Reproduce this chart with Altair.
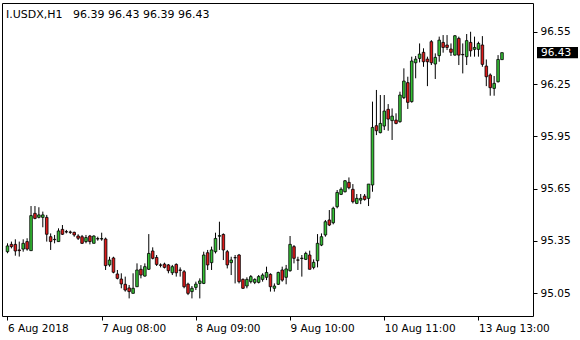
import altair as alt
import pandas as pd

opens = [95.288, 95.330, 95.330, 95.298, 95.303, 95.346, 95.294, 95.508, 95.485, 95.485,
         95.485, 95.374, 95.359, 95.346, 95.416, 95.403, 95.401, 95.399, 95.378, 95.374,
         95.346, 95.378, 95.336, 95.363, 95.361, 95.361, 95.212, 95.252, 95.160, 95.131,
         95.101, 95.080, 95.049, 95.087, 95.187, 95.148, 95.187, 95.292, 95.255, 95.212,
         95.217, 95.212, 95.167, 95.215, 95.183, 95.173, 95.102, 95.059, 95.083, 95.106,
         95.106, 95.282, 95.225, 95.288, 95.377, 95.387, 95.288, 95.225, 95.254, 95.269,
         95.129, 95.091, 95.116, 95.112, 95.112, 95.129, 95.141, 95.158, 95.078, 95.101,
         95.183, 95.141, 95.179, 95.317, 95.241, 95.249, 95.244, 95.269, 95.198, 95.236,
         95.326, 95.384, 95.470, 95.454, 95.546, 95.617, 95.632, 95.686, 95.646, 95.565,
         95.584, 95.607, 95.594, 95.671, 96.011, 95.971, 96.009, 96.105, 96.040, 96.043,
         96.034, 96.172, 96.258, 96.149, 96.372, 96.397, 96.432, 96.393, 96.493, 96.365,
         96.413, 96.489, 96.474, 96.451, 96.416, 96.512, 96.420, 96.407, 96.489, 96.449,
         96.449, 96.474, 96.353, 96.302, 96.225, 96.263, 96.39]
highs = [95.336, 95.346, 95.359, 95.346, 95.359, 95.365, 95.550, 95.550, 95.543, 95.518,
         95.499, 95.393, 95.384, 95.422, 95.441, 95.413, 95.409, 95.403, 95.388, 95.384,
         95.384, 95.384, 95.382, 95.374, 95.397, 95.369, 95.259, 95.259, 95.183, 95.164,
         95.145, 95.097, 95.164, 95.221, 95.211, 95.221, 95.389, 95.313, 95.269, 95.221,
         95.225, 95.217, 95.212, 95.221, 95.198, 95.183, 95.110, 95.091, 95.116, 95.135,
         95.288, 95.298, 95.317, 95.397, 95.460, 95.393, 95.298, 95.259, 95.269, 95.275,
         95.135, 95.141, 95.154, 95.135, 95.154, 95.164, 95.202, 95.164, 95.106, 95.173,
         95.202, 95.212, 95.378, 95.326, 95.259, 95.269, 95.288, 95.294, 95.244, 95.389,
         95.393, 95.470, 95.527, 95.546, 95.642, 95.657, 95.699, 95.714, 95.676, 95.619,
         95.619, 95.619, 95.676, 96.149, 96.216, 96.187, 96.187, 96.135, 96.110, 96.082,
         96.206, 96.340, 96.292, 96.407, 96.411, 96.483, 96.455, 96.407, 96.502, 96.426,
         96.522, 96.531, 96.531, 96.483, 96.531, 96.522, 96.483, 96.537, 96.550, 96.522,
         96.493, 96.525, 96.391, 96.311, 96.296, 96.416, 96.43]
lows = [95.279, 95.307, 95.265, 95.260, 95.288, 95.294, 95.294, 95.474, 95.479, 95.428,
        95.346, 95.298, 95.336, 95.346, 95.384, 95.393, 95.390, 95.374, 95.355, 95.332,
        95.336, 95.330, 95.336, 95.351, 95.351, 95.183, 95.202, 95.164, 95.129, 95.078,
        95.059, 95.020, 95.049, 95.087, 95.135, 95.145, 95.183, 95.244, 95.206, 95.198,
        95.192, 95.164, 95.154, 95.145, 95.145, 95.078, 95.039, 95.020, 95.068, 95.020,
        95.102, 95.183, 95.183, 95.278, 95.298, 95.240, 95.192, 95.154, 95.106, 95.106,
        95.074, 95.078, 95.106, 95.102, 95.106, 95.116, 95.125, 95.059, 95.059, 95.097,
        95.116, 95.101, 95.173, 95.221, 95.183, 95.145, 95.240, 95.187, 95.187, 95.198,
        95.320, 95.374, 95.435, 95.445, 95.537, 95.613, 95.628, 95.646, 95.565, 95.561,
        95.561, 95.581, 95.550, 95.632, 95.957, 95.967, 95.986, 95.982, 95.929, 96.019,
        96.028, 96.164, 96.107, 96.143, 96.283, 96.374, 96.349, 96.238, 96.359, 96.279,
        96.378, 96.430, 96.445, 96.411, 96.413, 96.359, 96.311, 96.359, 96.407, 96.407,
        96.407, 96.349, 96.238, 96.183, 96.183, 96.259, 96.39]
closes = [95.321, 95.317, 95.292, 95.294, 95.336, 95.303, 95.495, 95.479, 95.499, 95.499,
          95.388, 95.346, 95.357, 95.407, 95.388, 95.401, 95.399, 95.384, 95.365, 95.336,
          95.369, 95.346, 95.378, 95.361, 95.363, 95.208, 95.240, 95.170, 95.135, 95.103,
          95.068, 95.059, 95.078, 95.183, 95.154, 95.202, 95.278, 95.250, 95.215, 95.210,
          95.198, 95.179, 95.202, 95.167, 95.181, 95.087, 95.049, 95.078, 95.102, 95.120,
          95.269, 95.212, 95.298, 95.364, 95.380, 95.298, 95.212, 95.240, 95.253, 95.116,
          95.078, 95.129, 95.145, 95.129, 95.145, 95.154, 95.169, 95.087, 95.091, 95.169,
          95.125, 95.189, 95.330, 95.250, 95.239, 95.251, 95.278, 95.187, 95.227, 95.336,
          95.374, 95.460, 95.441, 95.537, 95.628, 95.646, 95.695, 95.655, 95.575, 95.594,
          95.594, 95.588, 95.676, 96.001, 95.982, 96.024, 96.095, 96.049, 96.066, 96.024,
          96.187, 96.267, 96.145, 96.382, 96.393, 96.422, 96.378, 96.378, 96.372, 96.403,
          96.502, 96.460, 96.460, 96.432, 96.527, 96.416, 96.418, 96.499, 96.441, 96.460,
          96.483, 96.363, 96.292, 96.229, 96.254, 96.391, 96.43]

tick_index = [0, 24, 48, 72, 96, 120]
tick_labels = ["6 Aug 2018", "7 Aug 08:00", "8 Aug 09:00", "9 Aug 10:00",
               "10 Aug 11:00", "13 Aug 13:00"]
price_ticks = [95.05, 95.35, 95.65, 95.95, 96.25, 96.55]
header_text = "I.USDX,H1\u00a0\u00a0 96.39 96.43 96.39 96.43"

FONT = "DejaVu Sans"
W, H = 531, 313
GREEN = "#35c035"
RED = "#dc1a1a"

df = pd.DataFrame({
    "i": list(range(len(opens))),
    "open": opens, "high": highs, "low": lows, "close": closes,
})
df["dir"] = ["up" if c >= o else "down" for o, c in zip(opens, closes)]

x_scale = alt.Scale(domain=[-0.125, -0.125 + W / 4.0], nice=False, zero=False)
y_scale = alt.Scale(domain=[94.919, 96.715], nice=False, zero=False)

expr = "''"
for v, lab in reversed(list(zip(tick_index, tick_labels))):
    expr = f"datum.value == {v} ? '{lab}' : ({expr})"

x_axis = alt.Axis(values=tick_index, labelExpr=expr, labelAlign="left",
                  labelFont=FONT, labelFontSize=10.5, labelColor="black",
                  tickColor="black", tickSize=4, labelPadding=3, domain=False,
                  grid=False, title=None, labelOverlap=False, labelFlush=False)
y_axis = alt.Axis(values=price_ticks, format=".2f", orient="right",
                  labelFont=FONT, labelFontSize=10.5, labelColor="black",
                  tickColor="black", tickSize=4, labelPadding=3, domain=False,
                  grid=False, title=None, labelOverlap=False, labelFlush=False)

base = alt.Chart(df)

wicks = base.mark_rule(color="black", strokeWidth=1).encode(
    x=alt.X("i:Q", scale=x_scale, axis=x_axis),
    y=alt.Y("low:Q", scale=y_scale, axis=y_axis),
    y2="high:Q",
)

bodies = base.mark_bar(size=2.6, stroke="black", strokeWidth=0.8).encode(
    x=alt.X("i:Q", scale=x_scale),
    y=alt.Y("open:Q", scale=y_scale),
    y2="close:Q",
    fill=alt.Fill("dir:N", scale=alt.Scale(domain=["up", "down"], range=[GREEN, RED]),
                  legend=None),
)

last_df = pd.DataFrame({"p": [closes[-1]], "lo": [closes[-1] - 0.032],
                        "hi": [closes[-1] + 0.032], "t": [f"{closes[-1]:.2f}"]})
price_box = alt.Chart(last_df).mark_rect(color="black").encode(
    x=alt.value(W + 4), x2=alt.value(W + 45),
    y=alt.Y("lo:Q", scale=y_scale), y2="hi:Q",
)
price_txt = alt.Chart(last_df).mark_text(
    align="left", baseline="middle", color="white", font=FONT, fontSize=10.5
).encode(x=alt.value(W + 8), y=alt.Y("p:Q", scale=y_scale), text="t:N")

header = alt.Chart(pd.DataFrame({"t": [header_text]})).mark_text(
    align="left", baseline="middle", color="black", font=FONT, fontSize=11
).encode(x=alt.value(4), y=alt.value(12), text="t:N")

chart = alt.layer(wicks, bodies, price_box, price_txt, header).properties(
    width=W, height=H,
    padding={"left": 2, "top": 3, "right": 47, "bottom": 24},
    autosize=alt.AutoSizeParams(type="none"),
    background="white",
).configure_view(stroke="black", strokeWidth=1)

chart.save("out.html", embed_options={"renderer": "svg", "actions": False})
